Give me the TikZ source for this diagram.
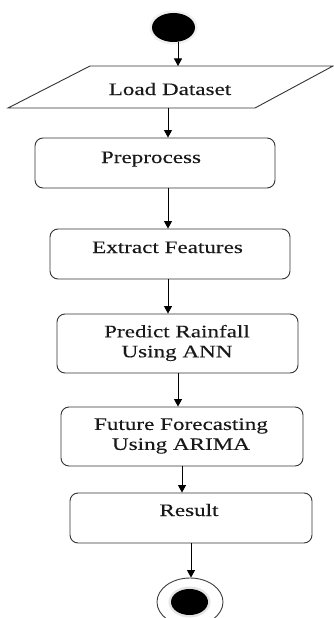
\documentclass[tikz,border=0pt]{standalone}
\usepackage{fontspec}
\setmainfont{Liberation Serif}[FakeStretch=1.32,FakeBold=0.15]
\usetikzlibrary{arrows.meta,shapes.geometric}
\tikzset{
  box/.style={draw=black!80, line width=0.9pt, rounded corners=8pt, inner sep=0pt},
  txt/.style={text=black!90, font=\fontsize{17.5}{20}\selectfont, align=center, inner sep=0pt},
  arr/.style={draw=black, line width=1pt, -{Triangle[length=7.5pt,width=8pt]}},
}
\begin{document}
\begin{tikzpicture}[x=1pt,y=-1pt]
\useasboundingbox (0,0) rectangle (333,618);
\fill[white] (0,0) rectangle (333,618);
% start
\fill[black!6] (173.5,27.5) ellipse [x radius=24, y radius=17];
\node[ellipse, fill=black, minimum width=43pt, minimum height=29pt, inner sep=0pt] (start) at (173.5,27.5) {};
% load dataset parallelogram
\draw[draw=black!80, line width=0.9pt] (90,66) coordinate (ldtl) -- (333,66) -- (255,108) -- (8,108) coordinate (ldbl) -- cycle;
\coordinate (ldtop) at (178,66);
\coordinate (ldbot) at (168,108);
\node[txt, anchor=base] (ld) at (170,95) {Load Dataset};
% boxes
\node[box, minimum width=240pt, minimum height=50pt] (pre) at (155,163) {};
\node[txt, anchor=base] (pret) at (151,163) {Preprocess};
\node[box, minimum width=240pt, minimum height=50pt] (ext) at (170,254) {};
\node[txt, anchor=base] (extt) at (167.5,253) {Extract Features};
\node[box, minimum width=241pt, minimum height=59pt] (pred) at (177.5,343.5) {};
\node[txt] (predt) at (177,343) {Predict Rainfall\\Using ANN};
\node[box, minimum width=242pt, minimum height=59pt] (fut) at (182,436.5) {};
\node[txt] (futt) at (181,436) {Future Forecasting\\Using ARIMA};
\node[box, minimum width=242pt, minimum height=50pt] (res) at (191,518) {};
\node[txt, anchor=base] (rest) at (189,516) {Result};
% end
\node[ellipse, draw=black!75, line width=0.9pt, fill=white, minimum width=66pt, minimum height=48pt, inner sep=0pt] (end) at (190,602) {};
\fill[black!10] (189.5,602) ellipse [x radius=21, y radius=15.5];
\node[ellipse, fill=black, minimum width=37pt, minimum height=26pt, inner sep=0pt] (endin) at (189.5,602) {};
% arrows
\draw[arr] (start.south -| 178,0) -- (ldtop);
\draw[arr] (ldbot) -- (pre.north -| 168,0);
\draw[arr] (pre.south -| 168,0) -- (ext.north -| 168,0);
\draw[arr] (ext.south -| 168,0) -- (pred.north -| 168,0);
\draw[arr] (pred.south -| 178,0) -- (fut.north -| 178,0);
\draw[arr] (fut.south -| 182,0) -- (res.north -| 182,0);
\draw[arr] (res.south -| 191,0) -- (end.north -| 191,0);
\end{tikzpicture}
\end{document}
